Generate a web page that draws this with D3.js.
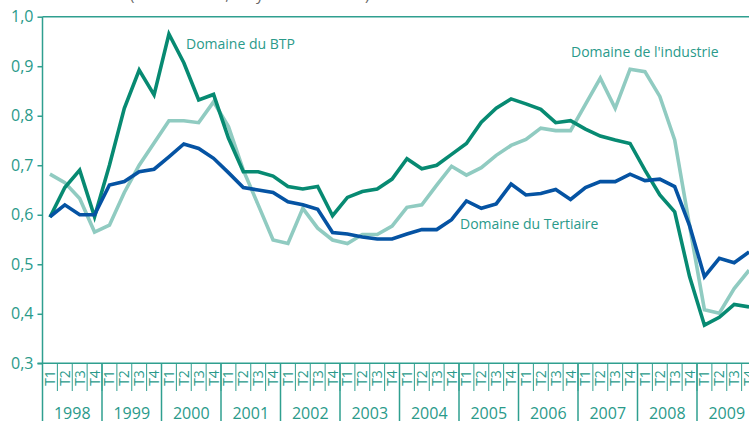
<!DOCTYPE html>
<html>
<head>
<meta charset="utf-8">
<script src="https://cdn.jsdelivr.net/npm/d3@7"></script>
<style>
  body { margin: 0; background: #fff; }
  svg { display: block; font-family: "Open Sans", sans-serif; }
</style>
</head>
<body>
<div id="chart"></div>
<script>
// Data: quarterly values 1998 T1 - 2009 T4
var years = ["1998","1999","2000","2001","2002","2003","2004","2005","2006","2007","2008","2009"];
var quarterLabels = ["T1","T2","T3","T4"];
var yTicks = [0.3, 0.4, 0.5, 0.6, 0.7, 0.8, 0.9, 1.0];

var btp = [
  0.595, 0.655, 0.690, 0.596,
  0.700, 0.815, 0.892, 0.842,
  0.965, 0.907, 0.832, 0.843,
  0.755, 0.687, 0.687, 0.678,
  0.657, 0.652, 0.657, 0.598,
  0.635, 0.647, 0.652, 0.672,
  0.713, 0.693, 0.700, 0.722,
  0.744, 0.787, 0.815, 0.834,
  0.824, 0.813, 0.786, 0.790,
  0.773, 0.759, 0.751, 0.744,
  0.690, 0.640, 0.606, 0.475,
  0.377, 0.393, 0.419, 0.414
];
var industrie = [
  0.682, 0.665, 0.633, 0.565,
  0.579, 0.645, 0.700, 0.745,
  0.790, 0.790, 0.786, 0.828,
  0.778, 0.690, 0.620, 0.549,
  0.542, 0.613, 0.573, 0.549,
  0.542, 0.560, 0.560, 0.577,
  0.615, 0.620, 0.660, 0.698,
  0.680, 0.695, 0.720, 0.740,
  0.752, 0.775, 0.770, 0.770,
  0.823, 0.876, 0.815, 0.894,
  0.889, 0.839, 0.751, 0.578,
  0.408, 0.401, 0.451, 0.488
];
var tertiaire = [
  0.596, 0.620, 0.600, 0.600,
  0.660, 0.667, 0.687, 0.692,
  0.717, 0.743, 0.734, 0.714,
  0.685, 0.655, 0.650, 0.645,
  0.626, 0.620, 0.611, 0.564,
  0.561, 0.555, 0.551, 0.551,
  0.561, 0.570, 0.570, 0.590,
  0.628, 0.613, 0.622, 0.662,
  0.640, 0.643, 0.651, 0.631,
  0.655, 0.667, 0.667, 0.682,
  0.669, 0.672, 0.657, 0.578,
  0.475, 0.512, 0.503, 0.525
];

var W = 749, H = 421;
var axisColor = "#2f9f8f", textColor = "#2a9a8a";

// quarter keys
var quarters = [];
years.forEach(function(y) {
  quarterLabels.forEach(function(q) { quarters.push(y + "-" + q); });
});

var x0 = 42.5, yearW = 59.5;
var x = d3.scaleBand()
  .domain(quarters)
  .range([x0, x0 + yearW * years.length])
  .padding(0);
var xYear = d3.scaleBand()
  .domain(years)
  .range([x0, x0 + yearW * years.length])
  .padding(0);

var y = d3.scaleLinear()
  .domain([0.3, 1.0])
  .range([363.3, 16.7]);

var svg = d3.select("#chart")
  .append("svg")
  .attr("width", W)
  .attr("height", H);

// subtitle, cut off by the top edge as in the original
svg.append("text")
  .attr("x", 130)
  .attr("y", 0)
  .style("font-size", "15px")
  .style("fill", "#666")
  .text("(séries lissées, moyennes mobiles)");

// top line at 1,0
svg.append("line")
  .attr("x1", x0).attr("x2", W)
  .attr("y1", y(1.0)).attr("y2", y(1.0))
  .attr("stroke", axisColor)
  .attr("stroke-width", 1.5);

// y axis
var fmt = function(d) { return d3.format(".1f")(d).replace(".", ","); };
var yAxis = svg.append("g")
  .attr("transform", "translate(" + x0 + ",0)")
  .call(d3.axisLeft(y).tickValues(yTicks).tickFormat(fmt).tickSize(5).tickSizeOuter(0));
yAxis.select(".domain").remove();
yAxis.selectAll("line").attr("stroke", axisColor).attr("stroke-width", 1.5);
yAxis.selectAll("text")
  .attr("x", -9)
  .style("font-size", "16px")
  .style("fill", textColor)
  .style("font-family", "'Open Sans', sans-serif");

// left vertical axis line, down to bottom
svg.append("line")
  .attr("x1", x0).attr("x2", x0)
  .attr("y1", y(1.0)).attr("y2", H)
  .attr("stroke", axisColor)
  .attr("stroke-width", 1.5);

// x axis baseline
svg.append("line")
  .attr("x1", x0 - 5).attr("x2", W)
  .attr("y1", y(0.3)).attr("y2", y(0.3))
  .attr("stroke", axisColor)
  .attr("stroke-width", 1.5);

// quarter separators
svg.selectAll(".qsep")
  .data(quarters)
  .enter()
  .append("line")
  .attr("class", "qsep")
  .attr("x1", function(d) { return x(d) + x.bandwidth(); })
  .attr("x2", function(d) { return x(d) + x.bandwidth(); })
  .attr("y1", y(0.3))
  .attr("y2", 391)
  .attr("stroke", axisColor)
  .attr("stroke-width", 1);

// year separators
svg.selectAll(".ysep")
  .data(years)
  .enter()
  .append("line")
  .attr("class", "ysep")
  .attr("x1", function(d) { return xYear(d) + xYear.bandwidth(); })
  .attr("x2", function(d) { return xYear(d) + xYear.bandwidth(); })
  .attr("y1", y(0.3))
  .attr("y2", H)
  .attr("stroke", axisColor)
  .attr("stroke-width", 1.5);

// quarter labels (rotated)
svg.selectAll(".qlab")
  .data(quarters)
  .enter()
  .append("text")
  .attr("class", "qlab")
  .attr("transform", function(d) {
    return "translate(" + (x(d) + x.bandwidth() / 2 + 5) + ",378) rotate(-90)";
  })
  .attr("text-anchor", "middle")
  .style("font-size", "14px")
  .style("fill", textColor)
  .text(function(d) { return d.split("-")[1]; });

// year labels
svg.selectAll(".ylab")
  .data(years)
  .enter()
  .append("text")
  .attr("class", "ylab")
  .attr("x", function(d) { return xYear(d) + xYear.bandwidth() / 2; })
  .attr("y", 419)
  .attr("text-anchor", "middle")
  .style("font-size", "16px")
  .style("fill", textColor)
  .text(function(d) { return d; });

// lines
var line = d3.line()
  .x(function(d, i) { return x(quarters[i]) + x.bandwidth() / 2; })
  .y(function(d) { return y(d); });

var series = [
  {name: "industrie", values: industrie, color: "#90cbc1"},
  {name: "btp", values: btp, color: "#078a72"},
  {name: "tertiaire", values: tertiaire, color: "#0553a3"}
];

svg.selectAll(".series")
  .data(series)
  .enter()
  .append("path")
  .attr("class", "series")
  .attr("d", function(d) { return line(d.values); })
  .attr("fill", "none")
  .attr("stroke", function(d) { return d.color; })
  .attr("stroke-width", 3.6)
  .attr("stroke-linejoin", "miter");

// series labels
var labels = [
  {text: "Domaine du BTP", x: 186, y: 49},
  {text: "Domaine de l'industrie", x: 571, y: 57},
  {text: "Domaine du Tertiaire", x: 460, y: 229}
];
svg.selectAll(".slab")
  .data(labels)
  .enter()
  .append("text")
  .attr("class", "slab")
  .attr("x", function(d) { return d.x; })
  .attr("y", function(d) { return d.y; })
  .style("font-size", "14px")
  .style("fill", textColor)
  .text(function(d) { return d.text; });
</script>
</body>
</html>
